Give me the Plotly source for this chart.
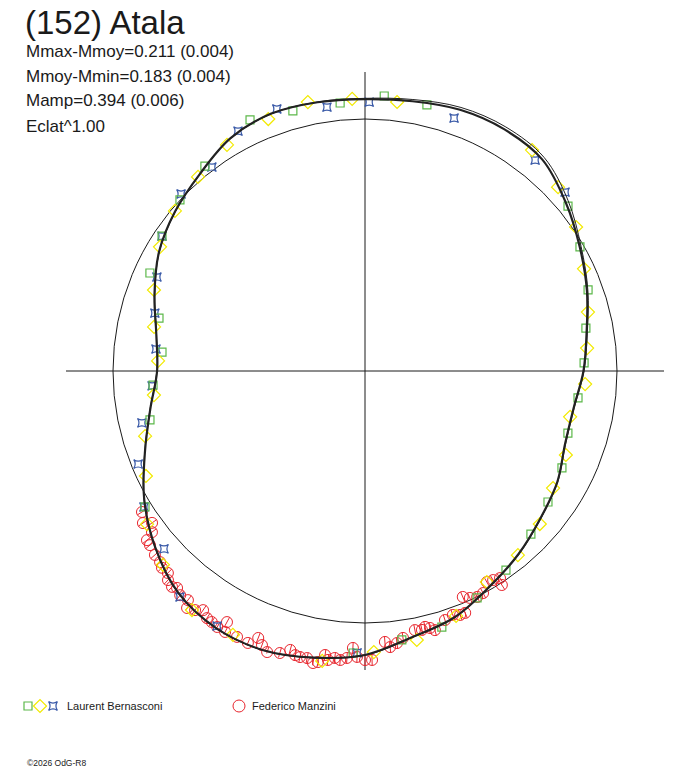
import plotly.graph_objects as go

# ---------------- data (relative flux, 1.0 = mean; angle = rotational phase in degrees) ----
fit_theta = [0, 10, 20, 30, 40, 50, 60, 70, 80, 90, 100, 110, 120, 130, 140, 150, 160, 170,
             180, 190, 200, 210, 220, 230, 240, 250, 260, 270, 280, 290, 300, 310, 320, 330,
             340, 350, 360]
fit_r = [0.867, 0.893, 0.937, 0.984, 1.040, 1.095, 1.107, 1.103, 1.087, 1.079, 1.083, 1.087,
         1.067, 1.020, 0.984, 0.944, 0.889, 0.841, 0.825, 0.865, 0.929, 1.012, 1.087, 1.151,
         1.179, 1.179, 1.155, 1.127, 1.073, 1.040, 0.988, 0.948, 0.909, 0.881, 0.845, 0.841,
         0.867]
fit2_r = [0.869, 0.896, 0.941, 0.990, 1.052, 1.106, 1.118, 1.113, 1.094, 1.082, 1.084, 1.086,
          1.066, 1.019, 0.983, 0.943, 0.888, 0.840, 0.826, 0.866, 0.930, 1.013, 1.088, 1.152,
          1.180, 1.180, 1.156, 1.128, 1.074, 1.041, 0.989, 0.950, 0.911, 0.883, 0.847, 0.843,
          0.869]

lb_green_theta = [114.6, 105.5, 95.3, 86.0, 76.9, 128.0, 137.25, 146.4, 155.5, 165.6, 174.7,
                  183.8, 192.8, 211.7, 267.6, 277.8, 286.7, 296.3, 305.3, 315.5, 324.4, 333.8,
                  343.0, 352.8, 2.1, 11.0, 20.0, 30.0, 39.1]
lb_green_r = [1.096, 1.071, 1.068, 1.094, 1.084, 1.032, 1.000, 0.967, 0.938, 0.844, 0.809,
              0.843, 0.875, 1.026, 1.120, 1.077, 1.061, 1.004, 0.968, 0.923, 0.893, 0.871,
              0.842, 0.852, 0.870, 0.893, 0.942, 0.985, 1.038]

lb_yellow_theta = [121.4, 111.0, 102.0, 92.7, 83.2, 130.7, 139.9, 148.8, 159.0, 168.2, 177.2,
                   186.5, 196.5, 205.6, 215.1, 223.8, 234.1, 243.4, 252.6, 261.6, 271.8, 280.9,
                   290.4, 300.0, 309.7, 318.8, 328.1, 337.3, 347.4, 356.6, 5.9, 14.8, 25.0,
                   34.3, 43.6, 52.9]
lb_yellow_r = [1.051, 1.071, 1.091, 1.081, 1.075, 1.016, 0.986, 0.951, 0.897, 0.855, 0.822,
               0.843, 0.910, 0.964, 1.057, 1.111, 1.171, 1.171, 1.194, 1.163, 1.116, 1.087,
               1.037, 0.967, 0.950, 0.922, 0.879, 0.864, 0.834, 0.875, 0.886, 0.915, 0.959,
               1.014, 1.058, 1.099]

lb_blue_theta = [117.9, 108.6, 98.2, 89.1, 70.6, 126.9, 136.1, 146.4, 155.7, 164.6, 174.0,
                 184.0, 193.1, 202.3, 211.6, 221.5, 230.7, 239.9, 249.2, 268.4, 51.1, 41.8]
lb_blue_r = [1.077, 1.097, 1.058, 1.067, 1.064, 1.012, 1.013, 0.967, 0.906, 0.865, 0.834,
             0.847, 0.909, 0.973, 1.030, 1.065, 1.159, 1.170, 1.210, 1.119, 1.075, 1.065]

fm_theta = [212.3, 214.4, 215.5, 217.1, 217.8, 219.0, 221.2, 223.0, 224.1, 225.7, 226.7, 228.2,
            229.1, 230.5, 232.3, 233.1, 234.6, 235.9, 237.4, 238.6, 240.0, 240.5, 241.2, 241.8,
            244.3, 246.7, 248.2, 249.4, 250.8, 253.2, 255.0, 256.2, 257.2, 258.6, 259.9, 260.8,
            262.0, 262.7, 264.0, 265.1, 266.4, 267.5, 268.4, 270.0, 271.4, 274.2, 275.2, 276.7,
            278.1, 280.9, 282.4, 283.2, 284.2, 285.1, 287.8, 289.8, 291.3, 292.5, 293.4, 294.8,
            296.4, 298.0, 300.0, 301.5, 303.1, 302.6]
fm_r = [1.047, 1.068, 1.038, 1.060, 1.095, 1.098, 1.108, 1.112, 1.122, 1.120, 1.140, 1.149,
        1.139, 1.153, 1.149, 1.176, 1.164, 1.146, 1.164, 1.167, 1.173, 1.194, 1.137, 1.175,
        1.171, 1.175, 1.141, 1.162, 1.181, 1.169, 1.146, 1.161, 1.164, 1.162, 1.177, 1.170,
        1.138, 1.156, 1.145, 1.151, 1.141, 1.100, 1.135, 1.147, 1.147, 1.078, 1.100, 1.087,
        1.070, 1.047, 1.052, 1.043, 1.052, 1.065, 1.038, 1.029, 1.039, 1.039, 0.977, 0.992,
        1.001, 0.998, 0.967, 0.973, 0.981, 1.008]
fm_err = 0.022

title_text = "(152) Atala"
info_lines = ["Mmax-Mmoy=0.211 (0.004)", "Mmoy-Mmin=0.183 (0.004)",
              "Mamp=0.394 (0.006)", "Eclat^1.00"]
observers = ["Laurent Bernasconi", "Federico Manzini"]
credit = "©2026 OdG-R8"

# ---------------- layout constants (pixels) ----------------
W, H = 688, 768
CX, CY = 365, 371          # centre of the cross
R_AX = 299                 # half-length of the cross
R_UNIT = 252               # radius of the mean circle (flux = 1)
r_max = R_AX / R_UNIT

GREEN = "#5cb84a"
YELLOW = "#f2ea00"
BLUE = "#3a5aa8"
RED = "#e8262e"
FONT = "Liberation Sans, Arial, sans-serif"

fig = go.Figure()

# error bars of Manzini's points (radial)
eb_r, eb_t = [], []
for t, r in zip(fm_theta, fm_r):
    eb_r += [r - fm_err, r + fm_err, None]
    eb_t += [t, t, None]
fig.add_trace(go.Scatterpolar(r=eb_r, theta=eb_t, mode="lines",
                              line=dict(color=RED, width=1), hoverinfo="skip",
                              showlegend=False))
fig.add_trace(go.Scatterpolar(r=fm_r, theta=fm_theta, mode="markers", name=observers[1],
                              marker=dict(symbol="circle-open", size=11, color=RED,
                                          line=dict(width=1)), showlegend=False))
fig.add_trace(go.Scatterpolar(r=lb_blue_r, theta=lb_blue_theta, mode="markers",
                              marker=dict(symbol="star-square-open", size=8, color=BLUE,
                                          line=dict(width=1.2)), showlegend=False))
fig.add_trace(go.Scatterpolar(r=lb_green_r, theta=lb_green_theta, mode="markers",
                              marker=dict(symbol="square-open", size=8, color=GREEN,
                                          line=dict(width=1.2)), showlegend=False))
fig.add_trace(go.Scatterpolar(r=lb_yellow_r, theta=lb_yellow_theta, mode="markers",
                              marker=dict(symbol="diamond-open", size=10, color=YELLOW,
                                          line=dict(width=1.2)), showlegend=False))
fig.add_trace(go.Scatterpolar(r=fit2_r, theta=fit_theta, mode="lines",
                              line=dict(color="#222222", width=1, shape="spline"),
                              showlegend=False))
fig.add_trace(go.Scatterpolar(r=fit_r, theta=fit_theta, mode="lines",
                              line=dict(color="#222222", width=2.2, shape="spline"),
                              showlegend=False))

# legend keys drawn in an overlay cartesian frame measured in page pixels
leg_y = 706
fig.add_trace(go.Scatter(x=[28], y=[leg_y], mode="markers", xaxis="x", yaxis="y",
                         marker=dict(symbol="square-open", size=8, color=GREEN,
                                     line=dict(width=1.2)), showlegend=False))
fig.add_trace(go.Scatter(x=[40], y=[leg_y], mode="markers", xaxis="x", yaxis="y",
                         marker=dict(symbol="diamond-open", size=10, color=YELLOW,
                                     line=dict(width=1.2)), showlegend=False))
fig.add_trace(go.Scatter(x=[53], y=[leg_y], mode="markers", xaxis="x", yaxis="y",
                         marker=dict(symbol="star-square-open", size=8, color=BLUE,
                                     line=dict(width=1.2)), showlegend=False))
fig.add_trace(go.Scatter(x=[239], y=[leg_y], mode="markers", xaxis="x", yaxis="y",
                         marker=dict(symbol="circle-open", size=12, color=RED,
                                     line=dict(width=1)), showlegend=False))

annotations = [
    dict(text=title_text, x=23 / W, y=1 - 22 / H, font=dict(size=33, color="#1a1a1a")),
]
for i, line in enumerate(info_lines):
    annotations.append(dict(text=line, x=24 / W, y=1 - (51 + 25 * i) / H,
                            font=dict(size=17, color="#1a1a1a")))
annotations.append(dict(text=observers[0], x=65 / W, y=1 - leg_y / H,
                        font=dict(size=11, color="#1a1a1a")))
annotations.append(dict(text=observers[1], x=250 / W, y=1 - leg_y / H,
                        font=dict(size=11, color="#1a1a1a")))
annotations.append(dict(text=credit, x=25 / W, y=1 - 763 / H,
                        font=dict(size=8.5, color="#1a1a1a")))
for a in annotations:
    a.update(xref="paper", yref="paper", xanchor="left", yanchor="middle",
             showarrow=False, font_family=FONT)

fig.update_layout(
    width=W, height=H, margin=dict(l=0, r=0, t=0, b=0),
    paper_bgcolor="white", plot_bgcolor="rgba(0,0,0,0)",
    font=dict(family=FONT),
    xaxis=dict(range=[0, W], domain=[0, 1], visible=False, fixedrange=True),
    yaxis=dict(range=[H, 0], domain=[0, 1], visible=False, fixedrange=True),
    polar=dict(
        domain=dict(x=[(CX - R_AX) / W, (CX + R_AX) / W],
                    y=[(H - CY - R_AX) / H, (H - CY + R_AX) / H]),
        bgcolor="rgba(0,0,0,0)",
        radialaxis=dict(range=[0, r_max], tickvals=[1.0], showticklabels=False, ticks="",
                        showline=False, showgrid=True, gridcolor="#1a1a1a", gridwidth=1),
        angularaxis=dict(rotation=0, direction="counterclockwise", tickmode="linear",
                         tick0=0, dtick=90, showticklabels=False, ticks="", showline=False,
                         showgrid=True, gridcolor="#1a1a1a", gridwidth=1),
    ),
    annotations=annotations,
    showlegend=False,
)

fig.write_html("out.html", config={"displayModeBar": False},
               post_script="document.body.style.margin='0';")
